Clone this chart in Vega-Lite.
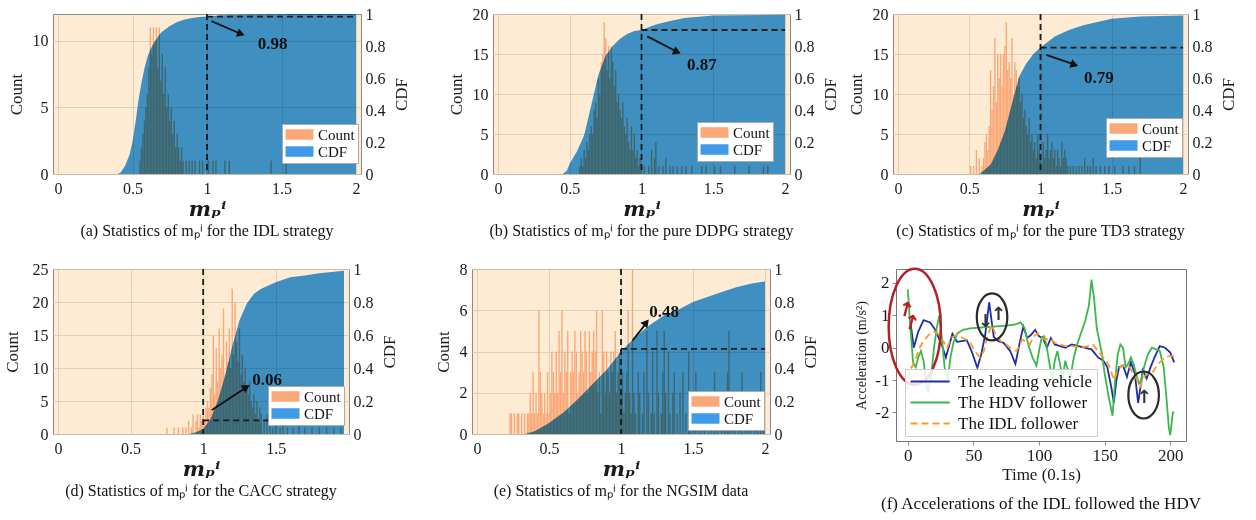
{
"$schema":"https://vega.github.io/schema/vega-lite/v6.json",
"background":"white",
"padding":{"left":2,"top":5,"right":2,"bottom":2},
"config":{
 "font":"Liberation Serif",
 "view":{"fill":"#fdebd4","stroke":"#8a8a8a","strokeWidth":1},
 "axis":{"labelFont":"Liberation Serif","titleFont":"Liberation Serif","labelFontSize":16,"titleFontSize":17,"labelColor":"#1a1a1a","titleColor":"#1a1a1a","titleFontWeight":"normal","ticks":false,"domain":false,"gridColor":"#dcc8ae","gridOpacity":0.8,"labelOverlap":false,"labelFlush":false},
 "axisLeft":{"labelPadding":5,"titlePadding":7},
 "axisRight":{"labelPadding":4,"titlePadding":8,"titleAngle":270,"titleBaseline":"top","grid":false},
 "axisBottom":{"labelPadding":6,"titlePadding":2,"titleFont":"DejaVu Serif","titleFontStyle":"italic","titleFontWeight":"bold","titleFontSize":21},
 "legend":{"labelFont":"Liberation Serif","labelFontSize":15,"labelColor":"#111","fillColor":"white","strokeColor":"#aaaaaa","padding":3,"rowPadding":1,"symbolType":"M-1,-0.75H3V0.75H-1Z","symbolSize":196,"symbolStrokeWidth":0,"symbolOpacity":1,"labelOffset":18},
 "title":{"orient":"bottom","font":"Liberation Serif","fontSize":16,"fontWeight":"normal","color":"#111","offset":0,"anchor":"middle"}
},
"datasets":{
 "a_bars":[{"m":0.55,"n":1},{"m":0.56,"n":2},{"m":0.57,"n":3},{"m":0.58,"n":4},{"m":0.59,"n":5},{"m":0.6,"n":6},{"m":0.61,"n":8},{"m":0.62,"n":11},{"m":0.63,"n":9},{"m":0.64,"n":11},{"m":0.65,"n":10},{"m":0.66,"n":11},{"m":0.67,"n":8},{"m":0.68,"n":11},{"m":0.69,"n":7},{"m":0.7,"n":9},{"m":0.71,"n":6},{"m":0.72,"n":8},{"m":0.73,"n":5},{"m":0.74,"n":6},{"m":0.75,"n":4},{"m":0.76,"n":5},{"m":0.77,"n":3},{"m":0.78,"n":4},{"m":0.79,"n":2},{"m":0.8,"n":3},{"m":0.81,"n":2},{"m":0.82,"n":1},{"m":0.83,"n":2},{"m":0.84,"n":1},{"m":0.86,"n":1},{"m":0.88,"n":1},{"m":0.9,"n":1},{"m":0.92,"n":1},{"m":0.95,"n":1},{"m":0.97,"n":1},{"m":1.01,"n":1},{"m":1.04,"n":1},{"m":1.06,"n":1},{"m":1.12,"n":1},{"m":1.15,"n":1},{"m":1.43,"n":1},{"m":1.53,"n":1}],
 "a_cdf":[{"m":0.4,"c":0},{"m":0.42,"c":0.01},{"m":0.45,"c":0.05},{"m":0.48,"c":0.12},{"m":0.5,"c":0.2},{"m":0.52,"c":0.32},{"m":0.54,"c":0.46},{"m":0.56,"c":0.57},{"m":0.58,"c":0.66},{"m":0.6,"c":0.73},{"m":0.62,"c":0.78},{"m":0.65,"c":0.83},{"m":0.68,"c":0.87},{"m":0.7,"c":0.89},{"m":0.75,"c":0.925},{"m":0.8,"c":0.95},{"m":0.85,"c":0.965},{"m":0.9,"c":0.975},{"m":0.95,"c":0.982},{"m":1.0,"c":0.985},{"m":1.1,"c":0.992},{"m":1.3,"c":0.997},{"m":1.6,"c":1},{"m":2.0,"c":1}],
 "b_bars":[{"m":0.57,"n":1},{"m":0.58,"n":2},{"m":0.59,"n":1},{"m":0.6,"n":3},{"m":0.61,"n":2},{"m":0.62,"n":4},{"m":0.63,"n":3},{"m":0.64,"n":5},{"m":0.65,"n":6},{"m":0.66,"n":5},{"m":0.67,"n":8},{"m":0.68,"n":9},{"m":0.69,"n":7},{"m":0.7,"n":12},{"m":0.71,"n":10},{"m":0.72,"n":14},{"m":0.73,"n":15},{"m":0.74,"n":19},{"m":0.75,"n":17},{"m":0.76,"n":13},{"m":0.77,"n":16},{"m":0.78,"n":12},{"m":0.79,"n":16},{"m":0.8,"n":14},{"m":0.81,"n":11},{"m":0.82,"n":13},{"m":0.83,"n":9},{"m":0.84,"n":10},{"m":0.85,"n":8},{"m":0.86,"n":7},{"m":0.87,"n":9},{"m":0.88,"n":6},{"m":0.89,"n":5},{"m":0.9,"n":7},{"m":0.91,"n":4},{"m":0.92,"n":3},{"m":0.93,"n":6},{"m":0.94,"n":3},{"m":0.95,"n":5},{"m":0.96,"n":2},{"m":0.97,"n":3},{"m":0.98,"n":1},{"m":0.99,"n":2},{"m":1.0,"n":1},{"m":1.02,"n":1},{"m":1.05,"n":1},{"m":1.07,"n":3},{"m":1.09,"n":2},{"m":1.1,"n":4},{"m":1.12,"n":1},{"m":1.15,"n":1},{"m":1.17,"n":2},{"m":1.2,"n":1},{"m":1.22,"n":1},{"m":1.25,"n":1},{"m":1.28,"n":1},{"m":1.31,"n":1},{"m":1.35,"n":1},{"m":1.42,"n":1},{"m":1.45,"n":1},{"m":1.51,"n":1},{"m":1.55,"n":1},{"m":1.65,"n":1},{"m":1.75,"n":1},{"m":1.85,"n":1},{"m":1.88,"n":1}],
 "b_cdf":[{"m":0.45,"c":0},{"m":0.48,"c":0.02},{"m":0.5,"c":0.066},{"m":0.55,"c":0.14},{"m":0.6,"c":0.24},{"m":0.65,"c":0.43},{"m":0.7,"c":0.62},{"m":0.75,"c":0.74},{"m":0.8,"c":0.8},{"m":0.85,"c":0.845},{"m":0.9,"c":0.875},{"m":0.95,"c":0.893},{"m":1.0,"c":0.9},{"m":1.1,"c":0.935},{"m":1.2,"c":0.957},{"m":1.3,"c":0.975},{"m":1.5,"c":0.99},{"m":2.0,"c":0.996}],
 "c_bars":[{"m":0.51,"n":1},{"m":0.53,"n":1},{"m":0.55,"n":3},{"m":0.57,"n":2},{"m":0.59,"n":1},{"m":0.6,"n":2},{"m":0.61,"n":4},{"m":0.62,"n":5},{"m":0.63,"n":3},{"m":0.64,"n":6},{"m":0.65,"n":13},{"m":0.66,"n":8},{"m":0.67,"n":11},{"m":0.68,"n":17},{"m":0.69,"n":9},{"m":0.7,"n":15},{"m":0.71,"n":12},{"m":0.72,"n":15},{"m":0.73,"n":11},{"m":0.74,"n":15},{"m":0.75,"n":16},{"m":0.76,"n":19},{"m":0.77,"n":13},{"m":0.78,"n":14},{"m":0.79,"n":12},{"m":0.8,"n":17},{"m":0.81,"n":10},{"m":0.82,"n":14},{"m":0.83,"n":13},{"m":0.84,"n":11},{"m":0.85,"n":12},{"m":0.86,"n":9},{"m":0.87,"n":10},{"m":0.88,"n":7},{"m":0.89,"n":8},{"m":0.9,"n":6},{"m":0.91,"n":5},{"m":0.92,"n":7},{"m":0.93,"n":4},{"m":0.94,"n":5},{"m":0.95,"n":3},{"m":0.96,"n":4},{"m":0.97,"n":2},{"m":0.98,"n":5},{"m":0.99,"n":3},{"m":1.0,"n":2},{"m":1.01,"n":1},{"m":1.02,"n":4},{"m":1.03,"n":2},{"m":1.04,"n":3},{"m":1.05,"n":5},{"m":1.06,"n":2},{"m":1.07,"n":3},{"m":1.08,"n":4},{"m":1.09,"n":2},{"m":1.1,"n":3},{"m":1.11,"n":1},{"m":1.12,"n":3},{"m":1.13,"n":2},{"m":1.14,"n":1},{"m":1.15,"n":4},{"m":1.16,"n":2},{"m":1.17,"n":3},{"m":1.18,"n":2},{"m":1.19,"n":1},{"m":1.21,"n":1},{"m":1.23,"n":1},{"m":1.25,"n":1},{"m":1.27,"n":1},{"m":1.29,"n":1},{"m":1.31,"n":2},{"m":1.33,"n":1},{"m":1.35,"n":1},{"m":1.37,"n":2},{"m":1.39,"n":1},{"m":1.42,"n":1},{"m":1.45,"n":1},{"m":1.48,"n":1},{"m":1.52,"n":1},{"m":1.58,"n":1},{"m":1.62,"n":1},{"m":1.66,"n":1},{"m":1.7,"n":2}],
 "c_cdf":[{"m":0.57,"c":0},{"m":0.6,"c":0.02},{"m":0.65,"c":0.06},{"m":0.7,"c":0.15},{"m":0.75,"c":0.27},{"m":0.8,"c":0.44},{"m":0.85,"c":0.61},{"m":0.9,"c":0.69},{"m":0.95,"c":0.75},{"m":1.0,"c":0.79},{"m":1.1,"c":0.86},{"m":1.2,"c":0.9},{"m":1.3,"c":0.93},{"m":1.4,"c":0.95},{"m":1.5,"c":0.97},{"m":1.7,"c":0.985},{"m":2.0,"c":0.99}],
 "d_bars":[{"m":0.75,"n":1},{"m":0.8,"n":1},{"m":0.83,"n":1},{"m":0.86,"n":1},{"m":0.88,"n":1},{"m":0.9,"n":2},{"m":0.92,"n":1},{"m":0.93,"n":3},{"m":0.95,"n":2},{"m":0.96,"n":3},{"m":0.97,"n":1},{"m":0.98,"n":3},{"m":0.99,"n":2},{"m":1.0,"n":3},{"m":1.01,"n":2},{"m":1.02,"n":4},{"m":1.03,"n":5},{"m":1.04,"n":4},{"m":1.05,"n":7},{"m":1.06,"n":9},{"m":1.07,"n":15},{"m":1.08,"n":6},{"m":1.09,"n":13},{"m":1.1,"n":8},{"m":1.11,"n":16},{"m":1.12,"n":10},{"m":1.13,"n":12},{"m":1.14,"n":19},{"m":1.15,"n":9},{"m":1.16,"n":14},{"m":1.17,"n":11},{"m":1.18,"n":16},{"m":1.19,"n":10},{"m":1.2,"n":22},{"m":1.21,"n":12},{"m":1.22,"n":20},{"m":1.23,"n":14},{"m":1.24,"n":11},{"m":1.25,"n":16},{"m":1.26,"n":9},{"m":1.27,"n":12},{"m":1.28,"n":8},{"m":1.29,"n":10},{"m":1.3,"n":7},{"m":1.31,"n":6},{"m":1.32,"n":8},{"m":1.33,"n":5},{"m":1.34,"n":4},{"m":1.35,"n":6},{"m":1.36,"n":3},{"m":1.37,"n":5},{"m":1.38,"n":2},{"m":1.39,"n":4},{"m":1.4,"n":3},{"m":1.42,"n":2},{"m":1.44,"n":3},{"m":1.46,"n":2},{"m":1.48,"n":1},{"m":1.5,"n":2},{"m":1.53,"n":1},{"m":1.55,"n":2},{"m":1.58,"n":1},{"m":1.62,"n":1},{"m":1.66,"n":2},{"m":1.7,"n":1},{"m":1.75,"n":1},{"m":1.8,"n":1},{"m":1.85,"n":1},{"m":1.9,"n":1},{"m":1.95,"n":1}],
 "d_cdf":[{"m":0.9,"c":0},{"m":0.95,"c":0.01},{"m":1.0,"c":0.03},{"m":1.05,"c":0.09},{"m":1.1,"c":0.2},{"m":1.15,"c":0.35},{"m":1.2,"c":0.53},{"m":1.25,"c":0.69},{"m":1.3,"c":0.79},{"m":1.35,"c":0.85},{"m":1.4,"c":0.88},{"m":1.5,"c":0.92},{"m":1.6,"c":0.95},{"m":1.7,"c":0.96},{"m":1.8,"c":0.975},{"m":1.97,"c":0.99}],
 "e_bars":[{"m":0.23,"n":1},{"m":0.24,"n":1},{"m":0.26,"n":1},{"m":0.28,"n":1},{"m":0.29,"n":1},{"m":0.31,"n":1},{"m":0.33,"n":1},{"m":0.35,"n":1},{"m":0.36,"n":1},{"m":0.37,"n":2},{"m":0.38,"n":1},{"m":0.39,"n":3},{"m":0.4,"n":1},{"m":0.41,"n":2},{"m":0.42,"n":1},{"m":0.43,"n":6},{"m":0.44,"n":3},{"m":0.45,"n":2},{"m":0.46,"n":1},{"m":0.47,"n":2},{"m":0.48,"n":1},{"m":0.49,"n":3},{"m":0.5,"n":1},{"m":0.51,"n":2},{"m":0.52,"n":4},{"m":0.53,"n":3},{"m":0.54,"n":2},{"m":0.55,"n":4},{"m":0.56,"n":2},{"m":0.57,"n":5},{"m":0.58,"n":3},{"m":0.59,"n":6},{"m":0.6,"n":2},{"m":0.61,"n":4},{"m":0.62,"n":3},{"m":0.63,"n":5},{"m":0.64,"n":1},{"m":0.65,"n":3},{"m":0.66,"n":4},{"m":0.67,"n":3},{"m":0.68,"n":5},{"m":0.69,"n":4},{"m":0.7,"n":2},{"m":0.71,"n":3},{"m":0.72,"n":5},{"m":0.73,"n":4},{"m":0.74,"n":3},{"m":0.75,"n":5},{"m":0.76,"n":4},{"m":0.77,"n":2},{"m":0.78,"n":5},{"m":0.79,"n":3},{"m":0.8,"n":4},{"m":0.81,"n":5},{"m":0.82,"n":4},{"m":0.83,"n":6},{"m":0.84,"n":2},{"m":0.85,"n":3},{"m":0.86,"n":1},{"m":0.87,"n":6},{"m":0.88,"n":4},{"m":0.89,"n":2},{"m":0.9,"n":4},{"m":0.91,"n":3},{"m":0.92,"n":2},{"m":0.93,"n":4},{"m":0.94,"n":3},{"m":0.95,"n":4},{"m":0.96,"n":5},{"m":0.97,"n":2},{"m":0.98,"n":3},{"m":0.99,"n":4},{"m":1.0,"n":2},{"m":1.01,"n":3},{"m":1.02,"n":1},{"m":1.03,"n":2},{"m":1.04,"n":3},{"m":1.05,"n":6},{"m":1.06,"n":2},{"m":1.07,"n":1},{"m":1.08,"n":8},{"m":1.09,"n":2},{"m":1.1,"n":1},{"m":1.12,"n":3},{"m":1.13,"n":2},{"m":1.15,"n":1},{"m":1.16,"n":3},{"m":1.18,"n":5},{"m":1.19,"n":2},{"m":1.21,"n":1},{"m":1.22,"n":4},{"m":1.23,"n":1},{"m":1.25,"n":5},{"m":1.26,"n":2},{"m":1.28,"n":1},{"m":1.29,"n":3},{"m":1.3,"n":5},{"m":1.31,"n":2},{"m":1.33,"n":4},{"m":1.34,"n":1},{"m":1.36,"n":2},{"m":1.37,"n":3},{"m":1.39,"n":1},{"m":1.41,"n":2},{"m":1.43,"n":3},{"m":1.45,"n":1},{"m":1.47,"n":4},{"m":1.48,"n":2},{"m":1.5,"n":1},{"m":1.52,"n":3},{"m":1.54,"n":1},{"m":1.56,"n":2},{"m":1.58,"n":1},{"m":1.61,"n":2},{"m":1.63,"n":1},{"m":1.65,"n":3},{"m":1.67,"n":1},{"m":1.7,"n":2},{"m":1.72,"n":1},{"m":1.74,"n":3},{"m":1.75,"n":5},{"m":1.77,"n":1},{"m":1.79,"n":2},{"m":1.82,"n":1},{"m":1.84,"n":3},{"m":1.86,"n":1},{"m":1.88,"n":2},{"m":1.9,"n":1},{"m":1.93,"n":2},{"m":1.95,"n":1},{"m":1.97,"n":3},{"m":1.99,"n":1}],
 "e_cdf":[{"m":0.33,"c":0},{"m":0.4,"c":0.016},{"m":0.5,"c":0.067},{"m":0.6,"c":0.13},{"m":0.7,"c":0.21},{"m":0.8,"c":0.3},{"m":0.9,"c":0.39},{"m":1.0,"c":0.5},{"m":1.1,"c":0.59},{"m":1.2,"c":0.66},{"m":1.3,"c":0.72},{"m":1.4,"c":0.755},{"m":1.5,"c":0.8},{"m":1.6,"c":0.83},{"m":1.7,"c":0.86},{"m":1.8,"c":0.89},{"m":1.9,"c":0.91},{"m":2.0,"c":0.925}],
 "f_lines":[
  {"t":2,"a":0.8,"s":"The leading vehicle"},{"t":4.5,"a":0.0,"s":"The leading vehicle"},{"t":8,"a":0.5,"s":"The leading vehicle"},{"t":12,"a":0.85,"s":"The leading vehicle"},{"t":17,"a":0.78,"s":"The leading vehicle"},{"t":21,"a":0.55,"s":"The leading vehicle"},{"t":26,"a":0.07,"s":"The leading vehicle"},{"t":29,"a":-0.3,"s":"The leading vehicle"},{"t":34,"a":0.43,"s":"The leading vehicle"},{"t":37.5,"a":0.18,"s":"The leading vehicle"},{"t":45,"a":0.23,"s":"The leading vehicle"},{"t":49,"a":-0.15,"s":"The leading vehicle"},{"t":53,"a":-0.62,"s":"The leading vehicle"},{"t":56,"a":-0.2,"s":"The leading vehicle"},{"t":59,"a":0.4,"s":"The leading vehicle"},{"t":62,"a":1.4,"s":"The leading vehicle"},{"t":65.5,"a":0.33,"s":"The leading vehicle"},{"t":69,"a":0.2,"s":"The leading vehicle"},{"t":73,"a":0.15,"s":"The leading vehicle"},{"t":78,"a":-0.1,"s":"The leading vehicle"},{"t":82,"a":-0.5,"s":"The leading vehicle"},{"t":85,"a":0.1,"s":"The leading vehicle"},{"t":88,"a":0.65,"s":"The leading vehicle"},{"t":91,"a":0.3,"s":"The leading vehicle"},{"t":94,"a":0.4,"s":"The leading vehicle"},{"t":97,"a":0.55,"s":"The leading vehicle"},{"t":100,"a":0.35,"s":"The leading vehicle"},{"t":103,"a":0.3,"s":"The leading vehicle"},{"t":106,"a":0.0,"s":"The leading vehicle"},{"t":109,"a":0.3,"s":"The leading vehicle"},{"t":112,"a":0.1,"s":"The leading vehicle"},{"t":116,"a":0.05,"s":"The leading vehicle"},{"t":120,"a":0.0,"s":"The leading vehicle"},{"t":125,"a":0.1,"s":"The leading vehicle"},{"t":130,"a":0.05,"s":"The leading vehicle"},{"t":135,"a":0.0,"s":"The leading vehicle"},{"t":140,"a":-0.05,"s":"The leading vehicle"},{"t":145,"a":-0.3,"s":"The leading vehicle"},{"t":149,"a":-0.4,"s":"The leading vehicle"},{"t":152,"a":-0.6,"s":"The leading vehicle"},{"t":155,"a":-1.2,"s":"The leading vehicle"},{"t":157,"a":-1.7,"s":"The leading vehicle"},{"t":159,"a":-1.0,"s":"The leading vehicle"},{"t":161,"a":-0.6,"s":"The leading vehicle"},{"t":164,"a":-0.55,"s":"The leading vehicle"},{"t":167,"a":-0.9,"s":"The leading vehicle"},{"t":170,"a":-0.45,"s":"The leading vehicle"},{"t":173,"a":-0.8,"s":"The leading vehicle"},{"t":175.5,"a":-1.7,"s":"The leading vehicle"},{"t":177,"a":-1.3,"s":"The leading vehicle"},{"t":179,"a":-0.7,"s":"The leading vehicle"},{"t":182,"a":-0.95,"s":"The leading vehicle"},{"t":185,"a":-0.6,"s":"The leading vehicle"},{"t":188,"a":-0.3,"s":"The leading vehicle"},{"t":192,"a":0.05,"s":"The leading vehicle"},{"t":196,"a":0.0,"s":"The leading vehicle"},{"t":200,"a":-0.15,"s":"The leading vehicle"},{"t":203,"a":-0.45,"s":"The leading vehicle"},
  {"t":0,"a":1.8,"s":"The HDV follower"},{"t":2,"a":0.6,"s":"The HDV follower"},{"t":4,"a":-0.45,"s":"The HDV follower"},{"t":6,"a":-0.6,"s":"The HDV follower"},{"t":8,"a":-0.3,"s":"The HDV follower"},{"t":10,"a":-0.1,"s":"The HDV follower"},{"t":12,"a":-0.4,"s":"The HDV follower"},{"t":14,"a":-1.1,"s":"The HDV follower"},{"t":15.5,"a":-1.4,"s":"The HDV follower"},{"t":18,"a":-0.8,"s":"The HDV follower"},{"t":20,"a":0.0,"s":"The HDV follower"},{"t":22,"a":0.6,"s":"The HDV follower"},{"t":24,"a":1.0,"s":"The HDV follower"},{"t":26,"a":0.3,"s":"The HDV follower"},{"t":28,"a":-0.6,"s":"The HDV follower"},{"t":30.5,"a":-1.0,"s":"The HDV follower"},{"t":32.5,"a":-0.3,"s":"The HDV follower"},{"t":35,"a":0.2,"s":"The HDV follower"},{"t":38,"a":0.45,"s":"The HDV follower"},{"t":42,"a":0.55,"s":"The HDV follower"},{"t":48,"a":0.6,"s":"The HDV follower"},{"t":55,"a":0.62,"s":"The HDV follower"},{"t":65,"a":0.65,"s":"The HDV follower"},{"t":75,"a":0.68,"s":"The HDV follower"},{"t":82,"a":0.72,"s":"The HDV follower"},{"t":86,"a":0.78,"s":"The HDV follower"},{"t":89,"a":0.6,"s":"The HDV follower"},{"t":92,"a":0.07,"s":"The HDV follower"},{"t":95,"a":-0.3,"s":"The HDV follower"},{"t":98,"a":-0.55,"s":"The HDV follower"},{"t":100,"a":-0.1,"s":"The HDV follower"},{"t":102,"a":0.33,"s":"The HDV follower"},{"t":104,"a":0.35,"s":"The HDV follower"},{"t":106,"a":0.0,"s":"The HDV follower"},{"t":108,"a":-0.5,"s":"The HDV follower"},{"t":110,"a":-0.95,"s":"The HDV follower"},{"t":112,"a":-0.4,"s":"The HDV follower"},{"t":114,"a":-0.1,"s":"The HDV follower"},{"t":116,"a":-0.5,"s":"The HDV follower"},{"t":118,"a":-0.95,"s":"The HDV follower"},{"t":120,"a":-0.4,"s":"The HDV follower"},{"t":122,"a":-0.7,"s":"The HDV follower"},{"t":124,"a":-0.95,"s":"The HDV follower"},{"t":126,"a":-0.4,"s":"The HDV follower"},{"t":129,"a":0.1,"s":"The HDV follower"},{"t":132,"a":0.45,"s":"The HDV follower"},{"t":135,"a":0.8,"s":"The HDV follower"},{"t":138,"a":1.3,"s":"The HDV follower"},{"t":140,"a":2.1,"s":"The HDV follower"},{"t":142,"a":1.5,"s":"The HDV follower"},{"t":144,"a":0.6,"s":"The HDV follower"},{"t":146,"a":0.2,"s":"The HDV follower"},{"t":148,"a":-0.2,"s":"The HDV follower"},{"t":150,"a":-0.8,"s":"The HDV follower"},{"t":153,"a":-1.5,"s":"The HDV follower"},{"t":156,"a":-2.1,"s":"The HDV follower"},{"t":158,"a":-1.0,"s":"The HDV follower"},{"t":160,"a":-0.2,"s":"The HDV follower"},{"t":162,"a":0.1,"s":"The HDV follower"},{"t":164,"a":0.0,"s":"The HDV follower"},{"t":166,"a":-0.6,"s":"The HDV follower"},{"t":168,"a":-0.5,"s":"The HDV follower"},{"t":170,"a":-0.3,"s":"The HDV follower"},{"t":172,"a":-0.5,"s":"The HDV follower"},{"t":174,"a":-0.8,"s":"The HDV follower"},{"t":176,"a":-1.1,"s":"The HDV follower"},{"t":178,"a":-1.0,"s":"The HDV follower"},{"t":180,"a":-0.6,"s":"The HDV follower"},{"t":183,"a":-0.2,"s":"The HDV follower"},{"t":186,"a":0.0,"s":"The HDV follower"},{"t":189,"a":-0.05,"s":"The HDV follower"},{"t":192,"a":-0.1,"s":"The HDV follower"},{"t":195,"a":-0.6,"s":"The HDV follower"},{"t":197,"a":-1.5,"s":"The HDV follower"},{"t":199,"a":-2.5,"s":"The HDV follower"},{"t":200,"a":-2.7,"s":"The HDV follower"},{"t":202,"a":-2.0,"s":"The HDV follower"},{"t":203,"a":-2.0,"s":"The HDV follower"},
  {"t":0,"a":-1.3,"s":"The IDL follower"},{"t":1,"a":-0.7,"s":"The IDL follower"},{"t":3,"a":-0.6,"s":"The IDL follower"},{"t":6,"a":-0.35,"s":"The IDL follower"},{"t":9,"a":0.0,"s":"The IDL follower"},{"t":12,"a":0.2,"s":"The IDL follower"},{"t":16,"a":0.4,"s":"The IDL follower"},{"t":20,"a":0.5,"s":"The IDL follower"},{"t":24,"a":0.4,"s":"The IDL follower"},{"t":27,"a":0.2,"s":"The IDL follower"},{"t":30,"a":0.0,"s":"The IDL follower"},{"t":33,"a":0.3,"s":"The IDL follower"},{"t":37,"a":0.4,"s":"The IDL follower"},{"t":42,"a":0.3,"s":"The IDL follower"},{"t":47,"a":0.2,"s":"The IDL follower"},{"t":51,"a":-0.1,"s":"The IDL follower"},{"t":55,"a":-0.3,"s":"The IDL follower"},{"t":58,"a":-0.1,"s":"The IDL follower"},{"t":61,"a":0.4,"s":"The IDL follower"},{"t":64,"a":0.7,"s":"The IDL follower"},{"t":67,"a":0.4,"s":"The IDL follower"},{"t":71,"a":0.2,"s":"The IDL follower"},{"t":75,"a":0.1,"s":"The IDL follower"},{"t":79,"a":-0.05,"s":"The IDL follower"},{"t":83,"a":-0.1,"s":"The IDL follower"},{"t":87,"a":0.25,"s":"The IDL follower"},{"t":90,"a":0.2,"s":"The IDL follower"},{"t":93,"a":0.1,"s":"The IDL follower"},{"t":96,"a":0.35,"s":"The IDL follower"},{"t":99,"a":0.45,"s":"The IDL follower"},{"t":102,"a":0.3,"s":"The IDL follower"},{"t":105,"a":0.25,"s":"The IDL follower"},{"t":108,"a":0.3,"s":"The IDL follower"},{"t":112,"a":0.15,"s":"The IDL follower"},{"t":116,"a":0.1,"s":"The IDL follower"},{"t":120,"a":0.05,"s":"The IDL follower"},{"t":126,"a":0.05,"s":"The IDL follower"},{"t":132,"a":0.0,"s":"The IDL follower"},{"t":137,"a":0.05,"s":"The IDL follower"},{"t":141,"a":0.1,"s":"The IDL follower"},{"t":144,"a":-0.05,"s":"The IDL follower"},{"t":148,"a":-0.25,"s":"The IDL follower"},{"t":151,"a":-0.4,"s":"The IDL follower"},{"t":154,"a":-0.6,"s":"The IDL follower"},{"t":157,"a":-1.0,"s":"The IDL follower"},{"t":160,"a":-0.7,"s":"The IDL follower"},{"t":163,"a":-0.55,"s":"The IDL follower"},{"t":166,"a":-0.6,"s":"The IDL follower"},{"t":169,"a":-0.6,"s":"The IDL follower"},{"t":172,"a":-0.8,"s":"The IDL follower"},{"t":175,"a":-1.0,"s":"The IDL follower"},{"t":177,"a":-1.2,"s":"The IDL follower"},{"t":180,"a":-0.9,"s":"The IDL follower"},{"t":183,"a":-0.8,"s":"The IDL follower"},{"t":186,"a":-0.8,"s":"The IDL follower"},{"t":189,"a":-0.6,"s":"The IDL follower"},{"t":192,"a":-0.45,"s":"The IDL follower"},{"t":196,"a":-0.3,"s":"The IDL follower"},{"t":200,"a":-0.25,"s":"The IDL follower"},{"t":203,"a":-0.25,"s":"The IDL follower"}
 ]
},
"spacing":20,
"resolve":{"scale":{"color":"independent","strokeDash":"independent"}},
"vconcat":[
 {"spacing":36,
  "resolve":{"scale":{"color":"independent"}},
  "hconcat":[
  {"width":308,"height":160,
   "title":{"text":"(a) Statistics of mₚⁱ for the IDL strategy"},
   "resolve":{"scale":{"y":"independent"}},
   "layer":[
    {"data":{"name":"a_bars"},"mark":{"type":"bar","size":1.4},
     "encoding":{"x":{"field":"m","type":"quantitative","scale":{"domain":[0,2],"nice":false,"zero":false},"axis":{"values":[0,0.5,1,1.5,2],"format":"~g","title":"mₚⁱ","grid":true}},
      "y":{"field":"n","type":"quantitative","scale":{"domain":[0,12],"nice":false},"axis":{"values":[0,5,10],"title":"Count","grid":true}},
      "color":{"datum":"Count","type":"nominal","scale":{"domain":["Count","CDF"],"range":["#fba878","#3f9be8"]},"legend":{"title":null,"orient":"none","legendX":229,"legendY":110}}}},
    {"layer":[
     {"data":{"name":"a_cdf"},"mark":{"type":"area","blend":"multiply"},"encoding":{"x":{"field":"m","type":"quantitative"},"y":{"field":"c","type":"quantitative","scale":{"domain":[0,1],"nice":false},"axis":{"orient":"right","title":"CDF","tickCount":5,"format":"~g","labelOverlap":false}},"color":{"datum":"CDF","type":"nominal"}}},
     {"data":{"values":[{"m":1}]},"mark":{"type":"rule","color":"#1a1a1a","strokeWidth":1.8,"strokeDash":[6,4]},"encoding":{"x":{"field":"m","type":"quantitative"}}},
     {"data":{"values":[{"m":1,"m2":2,"c":0.983}]},"mark":{"type":"rule","color":"#1a1a1a","strokeWidth":1.8,"strokeDash":[6,4]},"encoding":{"x":{"field":"m","type":"quantitative"},"x2":{"field":"m2"},"y":{"field":"c","type":"quantitative"}}},
     {"data":{"values":[{"m":1.03,"c":0.955,"m2":1.21,"c2":0.883}]},"mark":{"type":"rule","color":"#111","strokeWidth":1.8},"encoding":{"x":{"field":"m","type":"quantitative"},"y":{"field":"c","type":"quantitative"},"x2":{"field":"m2"},"y2":{"field":"c2"}}},
     {"data":{"values":[{"m":1.22,"c":0.878}]},"mark":{"type":"point","shape":"triangle","filled":true,"color":"#111","size":80,"angle":110,"opacity":1},"encoding":{"x":{"field":"m","type":"quantitative"},"y":{"field":"c","type":"quantitative"}}},
     {"data":{"values":[{"m":1.44,"c":0.81,"t":"0.98"}]},"mark":{"type":"text","fontWeight":"bold","fontSize":17,"color":"#111"},"encoding":{"x":{"field":"m","type":"quantitative"},"y":{"field":"c","type":"quantitative"},"text":{"field":"t"}}}
    ]}
   ]},
  {"spacing":7,
   "resolve":{"scale":{"color":"independent"}},
   "hconcat":[
   {"width":297,"height":160,
    "title":{"text":"(b) Statistics of mₚⁱ for the pure DDPG strategy"},
    "resolve":{"scale":{"y":"independent"}},
    "layer":[
     {"data":{"name":"b_bars"},"mark":{"type":"bar","size":1.4},
      "encoding":{"x":{"field":"m","type":"quantitative","scale":{"domain":[0,2],"nice":false,"zero":false},"axis":{"values":[0,0.5,1,1.5,2],"format":"~g","title":"mₚⁱ","grid":true}},
       "y":{"field":"n","type":"quantitative","scale":{"domain":[0,20],"nice":false},"axis":{"values":[0,5,10,15,20],"title":"Count","grid":true}},
       "color":{"datum":"Count","type":"nominal","scale":{"domain":["Count","CDF"],"range":["#fba878","#3f9be8"]},"legend":{"title":null,"orient":"none","legendX":204,"legendY":108}}}},
     {"layer":[
      {"data":{"name":"b_cdf"},"mark":{"type":"area","blend":"multiply"},"encoding":{"x":{"field":"m","type":"quantitative"},"y":{"field":"c","type":"quantitative","scale":{"domain":[0,1],"nice":false},"axis":{"orient":"right","title":"CDF","tickCount":5,"format":"~g","labelOverlap":false}},"color":{"datum":"CDF","type":"nominal"}}},
      {"data":{"values":[{"m":1}]},"mark":{"type":"rule","color":"#1a1a1a","strokeWidth":1.8,"strokeDash":[6,4]},"encoding":{"x":{"field":"m","type":"quantitative"}}},
      {"data":{"values":[{"m":1,"m2":2,"c":0.9}]},"mark":{"type":"rule","color":"#1a1a1a","strokeWidth":1.8,"strokeDash":[6,4]},"encoding":{"x":{"field":"m","type":"quantitative"},"x2":{"field":"m2"},"y":{"field":"c","type":"quantitative"}}},
      {"data":{"values":[{"m":1.04,"c":0.86,"m2":1.23,"c2":0.772}]},"mark":{"type":"rule","color":"#111","strokeWidth":1.8},"encoding":{"x":{"field":"m","type":"quantitative"},"y":{"field":"c","type":"quantitative"},"x2":{"field":"m2"},"y2":{"field":"c2"}}},
      {"data":{"values":[{"m":1.24,"c":0.766}]},"mark":{"type":"point","shape":"triangle","filled":true,"color":"#111","size":80,"angle":115,"opacity":1},"encoding":{"x":{"field":"m","type":"quantitative"},"y":{"field":"c","type":"quantitative"}}},
      {"data":{"values":[{"m":1.42,"c":0.68,"t":"0.87"}]},"mark":{"type":"text","fontWeight":"bold","fontSize":17,"color":"#111"},"encoding":{"x":{"field":"m","type":"quantitative"},"y":{"field":"c","type":"quantitative"},"text":{"field":"t"}}}
     ]}
    ]},
   {"width":295,"height":160,
    "title":{"text":"(c) Statistics of mₚⁱ for the pure TD3 strategy"},
    "resolve":{"scale":{"y":"independent"}},
    "layer":[
     {"data":{"name":"c_bars"},"mark":{"type":"bar","size":1.4},
      "encoding":{"x":{"field":"m","type":"quantitative","scale":{"domain":[0,2],"nice":false,"zero":false},"axis":{"values":[0,0.5,1,1.5,2],"format":"~g","title":"mₚⁱ","grid":true}},
       "y":{"field":"n","type":"quantitative","scale":{"domain":[0,20],"nice":false},"axis":{"values":[0,5,10,15,20],"title":"Count","grid":true}},
       "color":{"datum":"Count","type":"nominal","scale":{"domain":["Count","CDF"],"range":["#fba878","#3f9be8"]},"legend":{"title":null,"orient":"none","legendX":213,"legendY":104}}}},
     {"layer":[
      {"data":{"name":"c_cdf"},"mark":{"type":"area","blend":"multiply"},"encoding":{"x":{"field":"m","type":"quantitative"},"y":{"field":"c","type":"quantitative","scale":{"domain":[0,1],"nice":false},"axis":{"orient":"right","title":"CDF","tickCount":5,"format":"~g","labelOverlap":false}},"color":{"datum":"CDF","type":"nominal"}}},
      {"data":{"values":[{"m":1}]},"mark":{"type":"rule","color":"#1a1a1a","strokeWidth":1.8,"strokeDash":[6,4]},"encoding":{"x":{"field":"m","type":"quantitative"}}},
      {"data":{"values":[{"m":1,"m2":2,"c":0.79}]},"mark":{"type":"rule","color":"#1a1a1a","strokeWidth":1.8,"strokeDash":[6,4]},"encoding":{"x":{"field":"m","type":"quantitative"},"x2":{"field":"m2"},"y":{"field":"c","type":"quantitative"}}},
      {"data":{"values":[{"m":1.04,"c":0.745,"m2":1.22,"c2":0.69}]},"mark":{"type":"rule","color":"#111","strokeWidth":1.8},"encoding":{"x":{"field":"m","type":"quantitative"},"y":{"field":"c","type":"quantitative"},"x2":{"field":"m2"},"y2":{"field":"c2"}}},
      {"data":{"values":[{"m":1.23,"c":0.685}]},"mark":{"type":"point","shape":"triangle","filled":true,"color":"#111","size":80,"angle":108,"opacity":1},"encoding":{"x":{"field":"m","type":"quantitative"},"y":{"field":"c","type":"quantitative"}}},
      {"data":{"values":[{"m":1.41,"c":0.6,"t":"0.79"}]},"mark":{"type":"text","fontWeight":"bold","fontSize":17,"color":"#111"},"encoding":{"x":{"field":"m","type":"quantitative"},"y":{"field":"c","type":"quantitative"},"text":{"field":"t"}}}
     ]}
    ]}
  ]}
 ]},
 {"spacing":35,
  "resolve":{"scale":{"color":"independent","strokeDash":"independent"}},
  "hconcat":[
  {"width":296,"height":165,
   "title":{"text":"(d) Statistics of mₚⁱ for the CACC strategy"},
   "resolve":{"scale":{"y":"independent"}},
   "layer":[
    {"data":{"name":"d_bars"},"mark":{"type":"bar","size":1.4},
     "encoding":{"x":{"field":"m","type":"quantitative","scale":{"domain":[0,1.97],"nice":false,"zero":false},"axis":{"values":[0,0.5,1,1.5],"format":"~g","title":"mₚⁱ","grid":true}},
      "y":{"field":"n","type":"quantitative","scale":{"domain":[0,25],"nice":false},"axis":{"values":[0,5,10,15,20,25],"title":"Count","grid":true,"titlePadding":11}},
      "color":{"datum":"Count","type":"nominal","scale":{"domain":["Count","CDF"],"range":["#fba878","#3f9be8"]},"legend":{"title":null,"orient":"none","legendX":215,"legendY":117}}}},
    {"layer":[
     {"data":{"name":"d_cdf"},"mark":{"type":"area","blend":"multiply"},"encoding":{"x":{"field":"m","type":"quantitative"},"y":{"field":"c","type":"quantitative","scale":{"domain":[0,1],"nice":false},"axis":{"orient":"right","title":"CDF","tickCount":5,"format":"~g","labelOverlap":false}},"color":{"datum":"CDF","type":"nominal"}}},
     {"data":{"values":[{"m":1}]},"mark":{"type":"rule","color":"#1a1a1a","strokeWidth":1.8,"strokeDash":[6,4]},"encoding":{"x":{"field":"m","type":"quantitative"}}},
     {"data":{"values":[{"m":1,"m2":1.97,"c":0.083}]},"mark":{"type":"rule","color":"#1a1a1a","strokeWidth":1.8,"strokeDash":[6,4]},"encoding":{"x":{"field":"m","type":"quantitative"},"x2":{"field":"m2"},"y":{"field":"c","type":"quantitative"}}},
     {"data":{"values":[{"m":1.06,"c":0.145,"m2":1.28,"c2":0.272}]},"mark":{"type":"rule","color":"#111","strokeWidth":1.8},"encoding":{"x":{"field":"m","type":"quantitative"},"y":{"field":"c","type":"quantitative"},"x2":{"field":"m2"},"y2":{"field":"c2"}}},
     {"data":{"values":[{"m":1.29,"c":0.28}]},"mark":{"type":"point","shape":"triangle","filled":true,"color":"#111","size":80,"angle":57,"opacity":1},"encoding":{"x":{"field":"m","type":"quantitative"},"y":{"field":"c","type":"quantitative"}}},
     {"data":{"values":[{"m":1.44,"c":0.33,"t":"0.06"}]},"mark":{"type":"text","fontWeight":"bold","fontSize":17,"color":"#111"},"encoding":{"x":{"field":"m","type":"quantitative"},"y":{"field":"c","type":"quantitative"},"text":{"field":"t"}}}
    ]}
   ]},
  {"width":298,"height":165,
   "title":{"text":"(e) Statistics of mₚⁱ for the NGSIM data"},
   "resolve":{"scale":{"y":"independent"}},
   "layer":[
    {"data":{"name":"e_bars"},"mark":{"type":"bar","size":1.4},
     "encoding":{"x":{"field":"m","type":"quantitative","scale":{"domain":[0,2],"nice":false,"zero":false},"axis":{"values":[0,0.5,1,1.5,2],"format":"~g","title":"mₚⁱ","grid":true}},
      "y":{"field":"n","type":"quantitative","scale":{"domain":[0,8],"nice":false},"axis":{"values":[0,2,4,6,8],"title":"Count","grid":true}},
      "color":{"datum":"Count","type":"nominal","scale":{"domain":["Count","CDF"],"range":["#fba878","#3f9be8"]},"legend":{"title":null,"orient":"none","legendX":216,"legendY":122}}}},
    {"layer":[
     {"data":{"name":"e_cdf"},"mark":{"type":"area","blend":"multiply"},"encoding":{"x":{"field":"m","type":"quantitative"},"y":{"field":"c","type":"quantitative","scale":{"domain":[0,1],"nice":false},"axis":{"orient":"right","title":"CDF","tickCount":5,"format":"~g","labelOverlap":false}},"color":{"datum":"CDF","type":"nominal"}}},
     {"data":{"values":[{"m":1}]},"mark":{"type":"rule","color":"#1a1a1a","strokeWidth":1.8,"strokeDash":[6,4]},"encoding":{"x":{"field":"m","type":"quantitative"}}},
     {"data":{"values":[{"m":1,"m2":2,"c":0.516}]},"mark":{"type":"rule","color":"#1a1a1a","strokeWidth":1.8,"strokeDash":[6,4]},"encoding":{"x":{"field":"m","type":"quantitative"},"x2":{"field":"m2"},"y":{"field":"c","type":"quantitative"}}},
     {"data":{"values":[{"m":1.08,"c":0.567,"m2":1.165,"c2":0.66}]},"mark":{"type":"rule","color":"#111","strokeWidth":1.8},"encoding":{"x":{"field":"m","type":"quantitative"},"y":{"field":"c","type":"quantitative"},"x2":{"field":"m2"},"y2":{"field":"c2"}}},
     {"data":{"values":[{"m":1.17,"c":0.67}]},"mark":{"type":"point","shape":"triangle","filled":true,"color":"#111","size":80,"angle":39,"opacity":1},"encoding":{"x":{"field":"m","type":"quantitative"},"y":{"field":"c","type":"quantitative"}}},
     {"data":{"values":[{"m":1.3,"c":0.74,"t":"0.48"}]},"mark":{"type":"text","fontWeight":"bold","fontSize":17,"color":"#111"},"encoding":{"x":{"field":"m","type":"quantitative"},"y":{"field":"c","type":"quantitative"},"text":{"field":"t"}}}
    ]}
   ]},
  {"width":290,"height":172,
   "view":{"fill":"white","stroke":"#777"},
   "title":{"text":"(f) Accelerations of the IDL followed the HDV","offset":14,"fontSize":17},
   "layer":[
    {"data":{"name":"f_lines"},"mark":{"type":"line","strokeWidth":1.8},
     "encoding":{"x":{"field":"t","type":"quantitative","scale":{"domain":[-9,212],"nice":false,"zero":false},"axis":{"values":[0,50,100,150,200],"title":"Time (0.1s)","titleFont":"Liberation Serif","titleFontStyle":"normal","titleFontWeight":"normal","titleFontSize":17,"labelFontSize":17,"ticks":true,"tickSize":4,"labelPadding":2,"titlePadding":3,"grid":false}},
      "y":{"field":"a","type":"quantitative","scale":{"domain":[-2.88,2.43],"nice":false,"zero":false},"axis":{"values":[-2,-1,0,1,2],"title":"Acceleration (m/s²)","titleFontSize":14,"labelFontSize":17,"ticks":true,"tickSize":4,"labelPadding":3,"titlePadding":6,"grid":false,"labelExpr":"replace(datum.label,'−','-')"}},
      "color":{"field":"s","type":"nominal","scale":{"domain":["The leading vehicle","The HDV follower","The IDL follower"],"range":["#1f2ea6","#3cb84a","#ff9a24"]},"legend":{"title":null,"orient":"none","legendX":9,"legendY":100,"symbolType":"M-1,0H4.6","symbolSize":196,"symbolStrokeWidth":2,"labelFontSize":17,"fillColor":"rgba(255,255,255,0.85)","strokeColor":"#cccccc","padding":4,"rowPadding":3,"labelOffset":32}},
      "strokeDash":{"field":"s","type":"nominal","scale":{"domain":["The leading vehicle","The HDV follower","The IDL follower"],"range":[[1,0],[1,0],[7,4]]},"legend":{"title":null,"orient":"none","legendX":9,"legendY":100,"symbolType":"M-1,0H4.6","symbolSize":196,"symbolStrokeWidth":2,"labelFontSize":17,"fillColor":"rgba(255,255,255,0.85)","strokeColor":"#cccccc","padding":4,"rowPadding":3,"labelOffset":32}}}},
    {"data":{"values":[{"t":5.3,"a":0.65}]},"mark":{"type":"point","shape":"M0,-1C0.2485,-1 0.45,-0.5523 0.45,0C0.45,0.5523 0.2485,1 0,1C-0.2485,1 -0.45,0.5523 -0.45,0C-0.45,-0.5523 -0.2485,-1 0,-1Z","size":13456,"filled":false,"color":"#b3202a","strokeWidth":2.5,"opacity":1},"encoding":{"x":{"field":"t","type":"quantitative"},"y":{"field":"a","type":"quantitative"}}},
    {"data":{"values":[{"t":64.2,"a":0.95},{"t":179.7,"a":-1.46}]},"mark":{"type":"point","shape":"M0,-1C0.36,-1 0.65,-0.5523 0.65,0C0.65,0.5523 0.36,1 0,1C-0.36,1 -0.65,0.5523 -0.65,0C-0.65,-0.5523 -0.36,-1 0,-1Z","size":2209,"filled":false,"color":"#2a2a2a","strokeWidth":2.2,"opacity":1},"encoding":{"x":{"field":"t","type":"quantitative"},"y":{"field":"a","type":"quantitative"}}},
    {"data":{"values":[{"t":59,"a":0.8,"g":"↓"},{"t":69,"a":1.0,"g":"↑"},{"t":180,"a":-1.55,"g":"↑"}]},"mark":{"type":"text","fontSize":18,"fontWeight":"bold","color":"#333","font":"DejaVu Sans"},"encoding":{"x":{"field":"t","type":"quantitative"},"y":{"field":"a","type":"quantitative"},"text":{"field":"g"}}},
    {"data":{"values":[{"t":-1.5,"a":1.15,"g":"↑"},{"t":2.5,"a":0.75,"g":"↑"}]},"mark":{"type":"text","fontSize":20,"fontWeight":"bold","color":"#c0191f","font":"DejaVu Sans","angle":15},"encoding":{"x":{"field":"t","type":"quantitative"},"y":{"field":"a","type":"quantitative"},"text":{"field":"g"}}}
   ]}
 ]}
]
}
